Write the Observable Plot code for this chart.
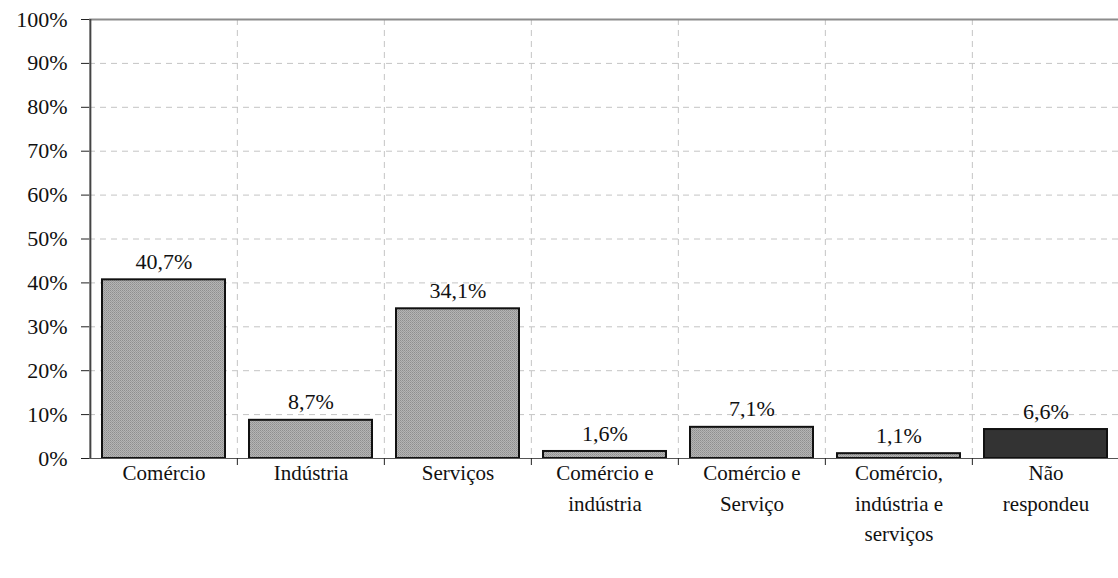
<!DOCTYPE html>
<html><head><meta charset="utf-8">
<script src="https://cdn.jsdelivr.net/npm/d3@7"></script>
<script src="https://cdn.jsdelivr.net/npm/@observablehq/plot@0.6"></script>
<style>
body{margin:0;background:#fff;}
#chart text, #chart tspan{font-family:'Liberation Serif', serif !important;}
</style></head>
<body><div id="chart"></div>
<script>
const categories = ["Comércio","Indústria","Serviços","Comércio e\nindústria","Comércio e\nServiço","Comércio,\nindústria e\nserviços","Não\nrespondeu"];
const values = [40.7, 8.7, 34.1, 1.6, 7.1, 1.1, 6.6];
const fills = ["url(#dots)","url(#dots)","url(#dots)","url(#dots)","url(#dots)","url(#dots)","#333333"];
const yTicks = [0,10,20,30,40,50,60,70,80,90,100];
const data = categories.map((c,i)=>({cat:c, value:values[i], fill:fills[i]}));

const W = 1118, H = 578, mL = 89, mR = -2;
const step = (W - mL - mR) / categories.length;
const fmt = v => v.toFixed(1).replace(".", ",") + "%";
const FF = "Liberation Serif";

const chart = Plot.plot({
  width: W, height: H,
  marginLeft: mL, marginRight: mR, marginTop: 19, marginBottom: 120,
  style: {fontFamily: FF, fontSize: "20px", background: "#fff"},
  x: {domain: categories, paddingInner: 0.16, paddingOuter: 0.08, label: null},
  y: {domain: [0,100], label: null},
  marks: [
    Plot.gridY(yTicks.filter(d => d > 0 && d < 100), {stroke: "#c4c4c4", strokeOpacity: 1, strokeDasharray: "6,5"}),
    Plot.ruleX(categories.slice(1), {x: d => d, dx: -step/2, stroke: "#c4c4c4", strokeOpacity: 1, strokeDasharray: "6,5"}),
    Plot.ruleY([100], {stroke: "#8c8c8c", strokeWidth: 2}),
    Plot.barY(data, {x: "cat", y: "value", fill: "fill", stroke: "#111", strokeWidth: 2}),
    Plot.text(data, {x: "cat", y: "value", text: d => fmt(d.value), lineAnchor: "middle", dy: -18, fontSize: 22, fontFamily: FF, fill: "#111"}),
    Plot.ruleY([0], {stroke: "#555", strokeWidth: 1}),
    Plot.ruleX(categories.slice(1), {x: d => d, dx: -step/2, y1: 0, y2: 0, insetBottom: -7, stroke: "#222"}),
    Plot.ruleX([categories[0]], {x: d => d, dx: -step/2, stroke: "#444", strokeWidth: 2}),
    Plot.axisY({ticks: yTicks, tickFormat: d => d + "%", tickSize: 8, tickPadding: 14, fontSize: 22, fontFamily: FF, stroke: "#222", fill: "#111"}),
    Plot.axisX({tickSize: 0, tickPadding: 0, fontSize: 21, fontFamily: FF, lineHeight: 1.45, fill: "#111"})
  ]
});

const ns = "http://www.w3.org/2000/svg";
const defs = document.createElementNS(ns, "defs");
defs.innerHTML = '<pattern id="dots" width="2" height="2" patternUnits="userSpaceOnUse">' +
  '<rect width="2" height="2" fill="#b4b4b4"/>' +
  '<rect width="1" height="1" fill="#8e8e8e"/>' +
  '<rect x="1" y="1" width="1" height="1" fill="#9c9c9c"/></pattern>';
chart.insertBefore(defs, chart.firstChild);
document.getElementById("chart").appendChild(chart);
</script></body></html>
